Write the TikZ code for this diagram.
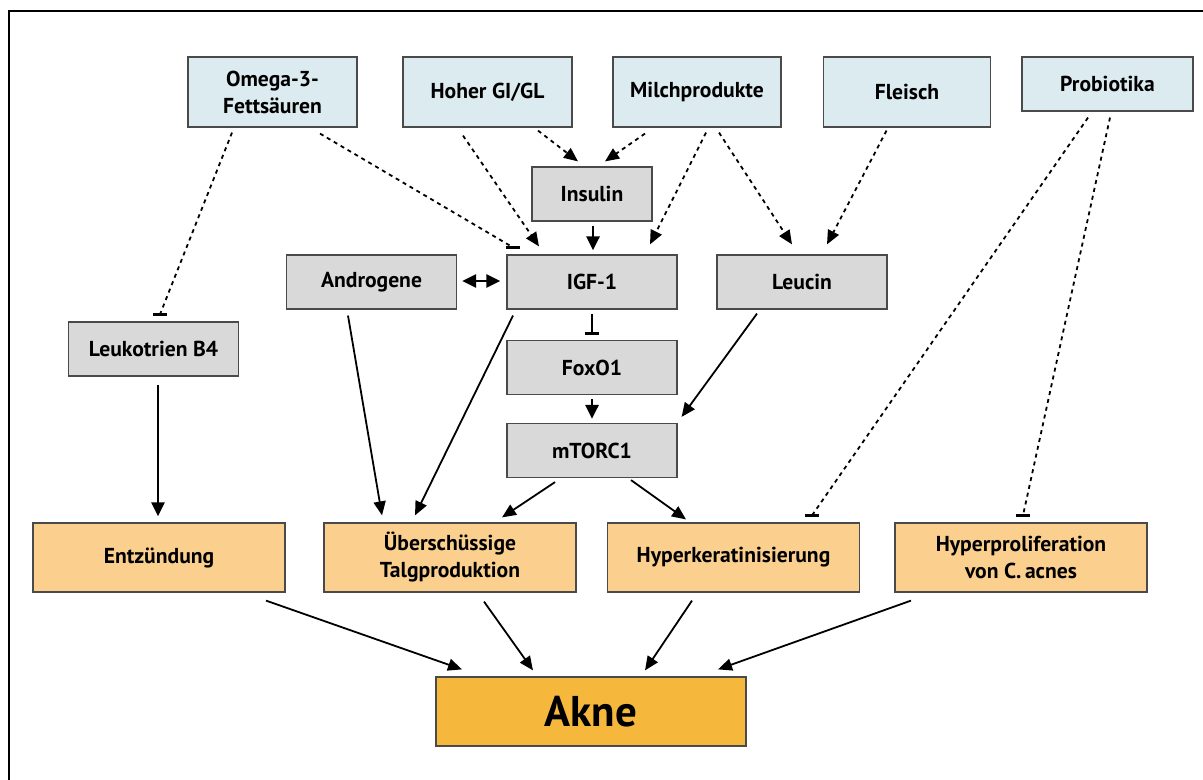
\documentclass[tikz,border=0pt]{standalone}
\usepackage{fontspec}
\setmainfont{PT Sans}
\usetikzlibrary{calc, arrows.meta}
\definecolor{srcBlue}{HTML}{DCEBF0}
\definecolor{midGrey}{HTML}{D9D9D9}
\definecolor{effOrange}{HTML}{FBD08F}
\definecolor{akneOrange}{HTML}{F5B83D}
\definecolor{edgeGrey}{HTML}{4A4A4A}
\tikzset{
  aknefig/.style={font=\fontsize{10.8}{13.5}\selectfont\bfseries},
  box/.style={draw=edgeGrey, line width=0.6pt, align=center, inner sep=0pt},
  src/.style={box, fill=srcBlue, minimum height=35pt},
  mid/.style={box, fill=midGrey, minimum width=85pt, minimum height=27pt},
  eff/.style={box, fill=effOrange, minimum width=126pt, minimum height=34.5pt},
  arr/.style={-{Triangle[length=7pt, width=6pt]}, line width=0.9pt},
  arrThick/.style={-{Triangle[length=7pt, width=6.5pt]}, line width=1.4pt},
  dotline/.style={line width=0.9pt, dash pattern=on 2pt off 2pt},
  dotarr/.style={dotline, -{Triangle[length=7pt, width=6pt]}},
  tbar/.style={line width=1.5pt},
}
\def\BarHalf{7}
\begin{document}
\begin{tikzpicture}[aknefig, x=0.5pt, y=-0.5pt]
  \useasboundingbox (0,0) rectangle (1203,780);
  % frame (top and left edge)
  \draw[line width=1pt] (9,780) -- (9,11) -- (1203,11);

  % ----- nutrition factors -----
  \node[src, minimum width=84.5pt] (omega) at (272.5,92) {Omega-3-\\Fetts\"auren};
  \node[src, minimum width=84.5pt] (hoher) at (487.5,92) {Hoher GI/GL};
  \node[src, minimum width=84pt] (milch) at (697,92) {Milchprodukte};
  \node[src, minimum width=83.5pt] (fleisch) at (907,92) {Fleisch};
  \node[src, minimum width=85.5pt, minimum height=27pt] (probio) at (1107.5,84) {Probiotika};

  % ----- mediators -----
  \node[mid, minimum width=60pt] (insulin) at (592,194) {Insulin};
  \node[mid] (andro) at (371.5,282) {Androgene};
  \node[mid] (igf) at (592,282) {IGF-1};
  \node[mid] (leucin) at (802,282) {Leucin};
  \node[mid] (foxo) at (592,367.5) {FoxO1};
  \node[mid] (mtorc) at (592,450.5) {mTORC1};
  \node[mid] (leuko) at (153.5,349) {Leukotrien B4};

  % ----- effects -----
  \node[eff] (entz) at (159,557.5) {Entz\"undung};
  \node[eff] (talg) at (450,557.5) {\"Ubersch\"ussige\\Talgproduktion};
  \node[eff] (hyperk) at (733.5,557.5) {Hyperkeratinisierung};
  \node[eff] (hyperp) at (1021,557.5) {Hyperproliferation\\von C.\,acnes};
  \node[box, fill=akneOrange, minimum width=155pt, minimum height=34.5pt,
        font=\fontsize{21.5}{24}\selectfont\bfseries] (akne) at (591,711.5) {Akne};

  % ----- dotted links from the top row -----
  \coordinate (omLT) at ($(leuko.north)+(6.5,-7)$);
  \draw[dotline] ($(omega.south)+(-40.5,5)$) -- (omLT);
  \draw[tbar] ($(omLT)+(-\BarHalf,0)$) -- ($(omLT)+(\BarHalf,0)$);
  \coordinate (omIG) at ($(igf.north)+(-79,-7)$);
  \draw[dotline] ($(omega.south)+(47.5,6)$) -- (omIG);
  \draw[tbar] ($(omIG)+(-\BarHalf,0)$) -- ($(omIG)+(\BarHalf,0)$);

  \draw[dotarr] ($(hoher.south)+(-24.5,8)$) -- ($(igf.north)+(-53,-8)$);
  \draw[dotarr] ($(hoher.south)+(50.5,3)$) -- ($(insulin.north)+(-14,-5)$);
  \draw[dotarr] ($(milch.south)+(-52,6)$) -- ($(insulin.north)+(13,-5)$);
  \draw[dotarr] ($(milch.south)+(9,5)$) -- ($(igf.north)+(58,-10)$);
  \draw[dotarr] ($(milch.south)+(22,5)$) -- ($(leucin.north)+(-10,-10)$);
  \draw[dotarr] ($(fleisch.south)+(-20.5,3)$) -- ($(leucin.north)+(25,-10)$);

  \coordinate (prHK) at ($(hyperk.north)+(78.5,-7)$);
  \draw[dotline] ($(probio.south)+(-19.5,6)$) -- (prHK);
  \draw[tbar] ($(prHK)+(-\BarHalf,0)$) -- ($(prHK)+(\BarHalf,0)$);
  \coordinate (prHP) at ($(hyperp.north)+(2,-7)$);
  \draw[dotline] ($(probio.south)+(2.5,6)$) -- (prHP);
  \draw[tbar] ($(prHP)+(-\BarHalf,0)$) -- ($(prHP)+(\BarHalf,0)$);

  % ----- solid links -----
  \draw[arrThick] ($(insulin.south)+(1,4)$) -- ($(igf.north)+(1,-4)$);
  \draw[arrThick, {Triangle[length=7pt, width=6.5pt]}-{Triangle[length=7pt, width=6.5pt]}]
    ($(andro.east)+(5,-1)$) -- ($(igf.west)+(-6,-1)$);
  \coordinate (igFO) at ($(foxo.north)+(0,-6)$);
  \draw[line width=1.4pt] ($(igf.south)+(0,4)$) -- (igFO);
  \draw[tbar] ($(igFO)+(-\BarHalf,0)$) -- ($(igFO)+(\BarHalf,0)$);
  \draw[arrThick] ($(foxo.south)+(0,4)$) -- ($(mtorc.north)+(0,-4)$);
  \draw[arr] ($(leucin.south)+(-45,4)$) -- ($(mtorc.north east)+(4,-6)$);
  \draw[arrThick] ($(leuko.south)+(4.5,8)$) -- ($(entz.north)+(-1,-6)$);

  \draw[arr] ($(andro.south)+(-23.5,6)$) -- ($(talg.north)+(-68,-7)$);
  \draw[arr] ($(igf.south)+(-79,6)$) -- ($(talg.north)+(-35,-7)$);
  \draw[arr] ($(mtorc.south)+(-37,4)$) -- ($(talg.north)+(52,-5)$);
  \draw[arr] ($(mtorc.south)+(39,2)$) -- ($(hyperk.north)+(-47.5,-3)$);

  % ----- into Akne -----
  \draw[arr] ($(entz.south)+(107,8)$) -- ($(akne.north)+(-129,-7)$);
  \draw[arr] ($(talg.south)+(34,9)$) -- ($(akne.north)+(-58,-6)$);
  \draw[arr] ($(hyperk.south)+(-41.5,8)$) -- ($(akne.north)+(54,-6)$);
  \draw[arr] ($(hyperp.south)+(-110,8)$) -- ($(akne.north)+(127,-7)$);
\end{tikzpicture}
\end{document}
